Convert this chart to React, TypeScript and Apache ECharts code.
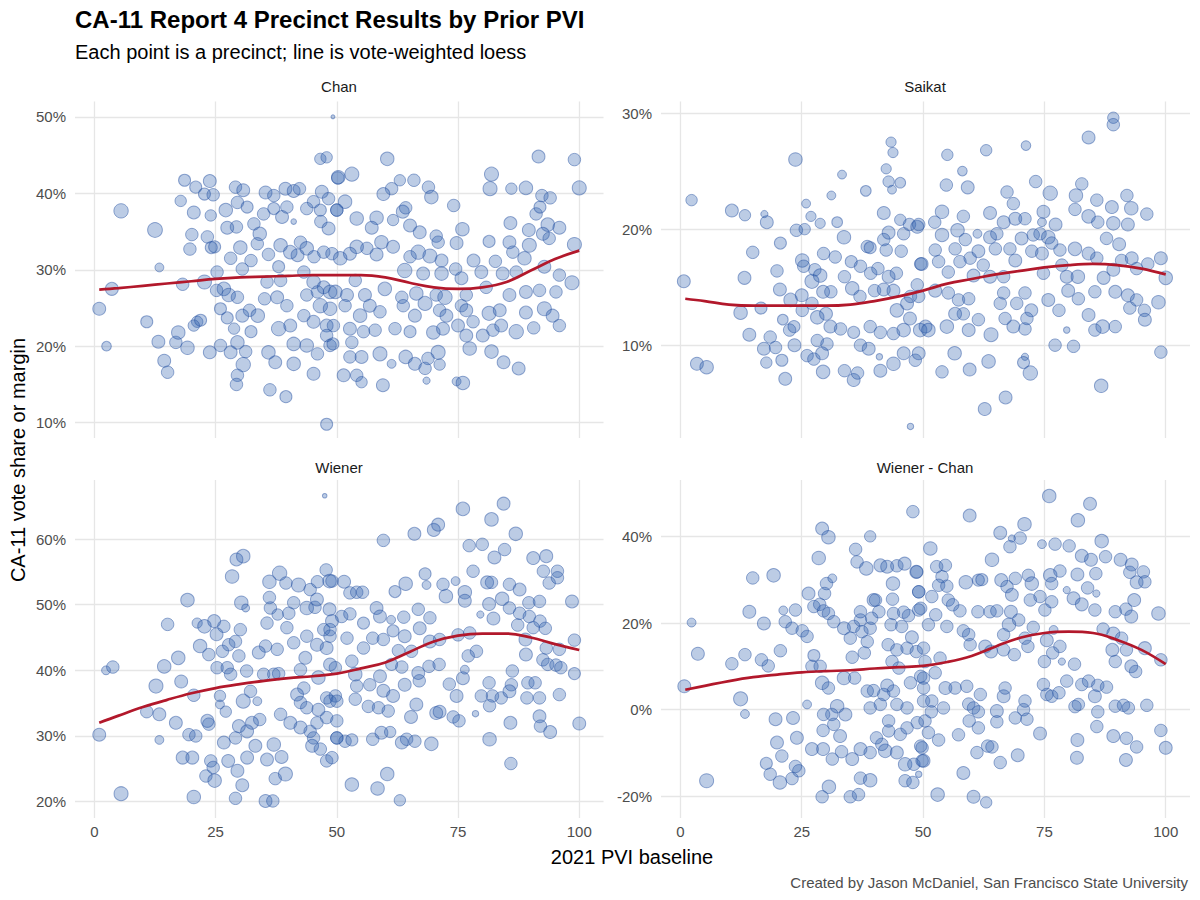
import React, { useEffect, useRef } from "react";
import * as echarts from "echarts";

// [pvi, share %, votes]
const chanPoints = [
  [49.2,50.0,30],[46.6,44.5,250],[47.9,44.7,250],[50.2,42.0,300],
  [18.6,41.7,280],[20.9,40.8,280],[23.8,41.6,320],[22.7,39.9,280],[24.5,39.8,300],
  [17.8,39.0,250],[20.5,37.5,320],[24.0,37.1,250],[5.5,37.7,400],
  [12.5,35.2,420],[20.1,34.6,300],[23.3,34.3,300],[19.7,32.7,300],[24.1,32.9,280],
  [13.4,30.3,150],[3.6,27.5,320],[1.0,24.9,320],[2.5,20.0,180],[18.2,28.1,300],[22.7,28.4,380],
  [10.8,23.2,280],[13.2,20.6,320],[14.4,18.1,320],[15.1,16.6,300],[16.8,20.5,300],[17.3,21.8,350],
  [19.2,19.8,350],[21.2,23.2,250],[21.9,23.4,280],[20.5,22.7,250],[23.8,19.2,320],
  [27.1,37.8,350],[29.1,40.8,300],[30.7,40.4,320],[29.5,38.8,300],[31.5,38.2,280],[27.4,35.5,320],
  [29.3,35.6,300],[32.9,36.0,300],[34.1,34.7,350],[33.6,33.4,300],[30.1,32.9,350],[28.1,31.5,300],
  [32.3,31.2,300],[30.5,30.1,300],[24.8,33.0,280],[25.3,29.7,300],[26.7,27.5,350],[27.7,26.7,350],
  [29.5,26.4,300],[25.2,27.3,300],[26.0,24.9,280],[27.4,23.7,280],[30.5,24.0,320],[32.0,24.7,300],
  [33.7,24.0,350],[26.0,20.1,300],[28.1,19.2,320],[29.5,20.5,350],[30.7,17.6,400],[29.5,16.2,300],
  [29.3,15.0,300],[31.2,19.3,300],[32.3,21.9,280],[28.8,22.3,250],
  [35.3,40.1,320],[37.0,39.7,300],[39.4,40.6,320],[41.1,40.3,320],[42.3,40.6,300],[34.9,37.3,300],
  [37.0,38.0,280],[38.7,36.9,320],[39.7,38.2,300],[41.1,36.3,60],[38.4,33.2,350],[40.4,32.3,350],
  [42.5,33.6,300],[41.9,31.9,320],[35.9,32.0,300],[38.0,30.4,280],[35.6,28.4,300],[38.4,28.6,300],
  [35.1,26.2,300],[37.7,26.4,320],[39.7,25.3,300],[38.0,22.3,400],[40.4,22.7,320],[41.1,20.3,350],
  [35.9,19.2,350],[37.3,17.9,320],[41.1,17.7,350],[36.2,14.3,300],[39.5,13.4,280],
  [43.8,38.0,300],[45.2,38.9,300],[46.9,40.2,320],[46.6,37.8,280],[48.3,39.3,300],[50.0,37.8,300],
  [46.7,36.3,300],[48.3,35.4,320],[43.8,32.8,350],[45.3,31.7,300],[47.3,32.3,300],[49.0,32.1,300],
  [43.2,29.7,300],[45.2,28.4,350],[47.3,27.7,320],[43.8,26.7,300],[46.0,27.1,300],[48.6,27.1,350],
  [46.6,25.3,400],[48.6,24.9,350],[43.2,24.0,300],[45.2,23.2,320],[47.9,22.7,320],[49.3,22.7,300],
  [43.8,20.1,350],[46.0,19.0,300],[47.9,21.4,300],[48.6,20.1,300],[45.2,16.4,320],[47.9,9.8,280],
  [60.4,44.5,350],[91.6,44.8,320],[99.0,44.4,300],[100,40.7,380],
  [50.3,42.1,350],[53.1,42.5,380],[63.0,41.7,250],[65.9,41.7,300],[68.9,40.8,300],[69.5,39.5,350],
  [61.3,40.6,300],[59.6,39.9,320],[81.9,42.5,380],[81.6,40.6,380],[86.0,40.6,250],[89.0,40.7,350],
  [92.3,39.7,300],[94.0,39.4,300],[74.1,38.4,300],
  [51.7,38.9,350],[50.0,37.8,300],[54.1,36.7,350],[58.2,36.8,350],[61.6,36.5,250],[63.6,37.6,320],
  [64.2,38.1,300],[57.2,35.5,320],[65.1,35.8,320],[67.1,34.9,320],[70.5,34.4,300],[70.9,33.6,300],
  [75.9,35.3,350],[74.7,33.5,320],[85.8,36.1,320],[89.6,35.2,320],[91.1,37.3,300],[91.9,38.2,280],
  [93.5,35.9,350],[95.9,35.5,320],[92.5,34.7,320],[93.8,34.1,300],[99.0,33.3,380],
  [59.2,33.6,350],[61.6,33.0,320],[56.2,32.8,300],[58.2,32.0,320],[54.1,33.0,350],[52.7,32.1,320],
  [50.7,31.5,350],[66.8,32.3,400],[69.2,31.8,380],[65.1,31.7,300],[71.6,31.2,320],[64.0,29.9,400],
  [67.8,29.5,320],[71.6,29.5,350],[74.5,30.1,300],[78.2,31.2,320],[79.8,29.7,320],[82.7,31.1,300],
  [81.4,33.7,280],[85.6,33.6,320],[88.7,31.5,350],[89.7,33.2,380],[86.3,32.3,300],[84.2,29.5,320],
  [87.0,29.7,300],[92.8,30.4,320],[95.9,29.3,300],[98.5,28.3,380],
  [49.7,27.1,350],[52.1,26.7,320],[53.8,28.6,300],[55.8,26.7,320],[59.9,27.5,350],[63.4,26.4,300],
  [66.4,26.9,350],[68.2,25.6,380],[70.5,26.7,300],[72.3,26.4,400],[75.7,28.9,320],[76.7,26.7,300],
  [80.8,27.7,300],[85.6,26.7,320],[89.0,27.1,320],[91.8,27.3,300],[95.2,27.1,300],
  [51.7,25.3,300],[54.8,24.0,350],[56.8,25.3,320],[58.9,24.5,300],[63.7,25.3,300],[66.1,24.0,320],
  [71.2,24.7,300],[72.6,24.0,320],[75.7,25.3,300],[76.7,24.7,320],[81.4,24.3,380],[83.6,24.7,320],
  [89.0,24.4,320],[92.8,24.9,380],[94.5,24.0,320],[95.9,22.7,300],[90.6,22.4,300],
  [52.7,22.3,320],[55.5,21.9,300],[57.9,22.1,300],[62.0,22.3,300],[65.1,21.9,280],[69.9,21.8,350],
  [71.9,22.3,320],[75.0,22.7,320],[76.7,21.4,320],[78.1,23.2,300],[80.1,21.4,320],[82.2,22.1,300],
  [83.9,22.7,320],[87.0,21.9,400],[77.4,19.7,350],
  [53.1,20.5,300],[49.2,20.3,280],[52.7,18.6,300],[55.1,18.6,320],[58.9,19.0,380],[61.3,17.7,150],
  [64.2,18.6,350],[66.1,17.7,320],[68.8,18.4,300],[70.9,19.2,380],[71.2,17.6,250],[81.9,19.3,350],
  [84.4,17.9,320],[87.5,17.1,320],[51.4,16.2,320],[54.1,16.2,300],[55.1,15.3,250],[59.5,14.9,320],
  [68.2,17.1,300],[68.5,15.5,100],[74.7,15.4,150],[76.0,15.2,350],
];

const saikatPoints = [
  [2.3,22.5,250],[0.7,15.5,320],[3.4,8.4,320],[5.4,8.1,350],
  [10.6,21.6,320],[13.3,21.2,250],[17.3,21.3,100],[17.8,20.6,320],[14.9,18.0,300],[13.2,15.8,320],
  [12.4,12.8,350],[14.2,10.9,320],[16.6,13.2,280],[17.2,9.7,320],[18.5,10.7,300],[19.6,9.8,300],
  [17.7,8.5,250],[20.9,8.7,280],[21.6,7.1,320],[20.6,18.8,280],[19.9,16.4,300],[20.5,14.8,320],
  [23.7,26.0,350],[25.9,22.2,150],[26.9,21.1,200],[28.8,20.5,200],[23.9,19.9,300],[25.6,20.0,250],
  [33.3,24.7,150],[31.1,22.9,150],[32.3,20.6,220],[33.7,19.3,350],[38.2,23.3,220],[41.9,21.4,320],
  [43.4,27.5,200],[43.8,26.6,200],[42.4,25.2,200],[42.9,24.1,250],[43.6,23.4,150],[45.3,24.0,220],
  [42.9,19.7,320],[41.9,19.1,300],[38.5,18.5,300],[39.1,18.4,280],[42.4,18.2,300],[45.5,18.1,300],
  [46.0,19.6,300],[45.3,20.8,250],[47.2,20.4,300],[48.8,20.2,320],
  [25.1,17.3,350],[25.4,16.8,300],[27.1,15.5,380],[28.8,16.0,350],[27.7,16.5,300],[29.5,17.9,300],
  [31.9,17.6,300],[29.4,14.6,320],[31.0,14.6,300],[33.8,15.9,300],[35.2,17.2,280],[37.1,16.8,300],
  [39.2,16.2,300],[40.7,16.6,300],[42.9,15.9,320],[44.5,16.2,300],[35.4,14.9,350],[37.0,14.2,300],
  [40.0,14.7,300],[41.9,14.8,320],[43.9,14.7,320],[22.7,13.9,350],[25.0,14.3,320],[25.1,13.0,300],
  [27.1,13.6,300],[28.2,12.4,350],[30.0,12.7,320],[30.9,11.6,320],[33.0,11.4,300],[35.7,11.1,280],
  [21.1,12.2,220],[23.4,11.6,280],[22.5,11.3,300],[23.5,10.0,320],[26.1,9.1,300],[27.5,8.8,300],
  [29.2,9.3,320],[28.2,10.4,300],[30.2,10.1,300],[29.4,7.7,350],[33.8,7.8,300],[35.7,7.0,320],
  [36.5,7.6,300],[37.1,10.0,300],[38.8,9.7,320],[39.1,11.6,300],[41.2,11.1,300],[41.0,9.0,80],
  [41.2,7.8,320],[43.9,8.4,350],[46.0,9.3,320],[48.4,8.7,300],[44.6,13.0,350],[46.7,13.6,320],
  [47.3,12.3,320],[46.0,11.3,350],[49.4,11.3,350],[50.5,11.6,320],[47.4,3.0,80],[43.9,11.0,300],
  [47.4,14.2,300],[48.8,15.2,300],[49.5,17.0,300],
  [89.2,29.6,250],[89.2,29.0,300],[84.1,27.9,320],[55.0,26.4,250],[63.0,26.8,250],[71.2,27.2,180],
  [58.1,25.0,180],[54.8,23.8,300],[59.2,23.6,320],[67.3,23.2,300],[73.2,24.1,300],[76.2,23.1,400],
  [68.6,22.2,300],[81.5,22.9,350],[82.7,23.9,300],[85.8,22.5,300],[88.9,21.9,320],[92.0,22.9,300],
  [92.9,21.8,350],[96.1,21.3,300],
  [53.9,21.5,350],[52.4,20.6,300],[58.3,21.1,300],[63.8,21.4,320],[66.6,20.6,320],[69.0,20.9,320],
  [71.0,20.9,300],[74.8,21.5,320],[74.5,20.6,150],[77.3,20.4,320],[81.3,21.7,300],[84.1,21.1,350],
  [86.0,20.6,300],[89.2,20.5,350],[92.2,20.4,320],[49.1,20.4,300],
  [53.9,19.5,350],[57.1,19.9,350],[58.7,19.1,300],[61.2,19.6,150],[63.8,19.3,320],[65.2,19.6,300],
  [70.3,19.2,320],[72.7,19.5,300],[74.1,19.6,300],[75.8,19.3,350],[76.5,18.8,300],[78.2,18.2,300],
  [81.3,18.3,350],[87.8,19.2,300],[90.4,18.7,320],[52.5,18.2,300],[56.6,18.3,300],[61.4,18.1,320],
  [64.9,18.3,300],[67.9,18.3,300],[72.4,18.1,300],[74.5,17.9,320],
  [49.7,17.0,320],[53.2,17.2,300],[57.6,17.2,300],[59.7,17.5,300],[62.4,16.9,300],[69.0,17.3,320],
  [63.8,15.9,320],[66.6,15.9,300],[60.4,16.0,320],[55.2,16.3,300],[74.8,16.2,300],[78.6,16.9,300],
  [79.6,15.9,320],[81.9,15.9,350],[84.1,17.9,320],[85.8,17.5,300],[87.2,15.8,320],[89.2,16.5,320],
  [90.9,17.3,300],[93.0,17.5,320],[94.0,16.6,300],[96.3,17.0,300],[99.0,17.5,320],[100,15.8,350],
  [49.1,14.2,300],[52.5,14.7,320],[55.2,14.5,300],[57.3,13.9,300],[59.4,14.0,300],[56.6,12.7,320],
  [58.3,12.7,300],[61.4,12.2,300],[65.9,13.6,300],[66.6,14.5,300],[69.3,13.6,300],[71.0,14.5,300],
  [72.3,13.0,320],[66.9,12.3,300],[68.6,11.6,320],[71.0,11.4,300],[71.4,12.3,300],[75.8,13.9,320],
  [78.0,13.0,300],[79.9,14.7,320],[82.0,14.0,300],[84.1,12.6,320],[85.4,14.6,300],[89.6,14.6,320],
  [92.2,14.3,320],[94.0,13.9,300],[92.6,13.2,300],[95.6,13.0,300],[95.7,12.2,320],[98.5,13.7,350],
  [87.0,11.6,350],[89.6,11.6,300],[85.4,11.3,300],[79.6,11.3,80],
  [51.1,11.3,350],[54.9,11.6,350],[59.4,11.3,320],[64.0,10.9,380],[49.1,9.3,320],[56.5,9.3,350],
  [63.5,8.6,350],[71.0,9.0,100],[70.7,8.5,280],[72.1,7.6,400],[53.9,7.7,300],[59.6,7.9,320],
  [77.2,10.0,300],[81.0,9.9,300],[99.0,9.4,300],[86.7,6.5,350],[67.0,5.5,320],[62.7,4.5,320],
];

const wienerPoints = [
  [47.5,66.6,40],[1.0,30.2,320],[2.4,40.0,150],[3.8,40.5,300],[5.5,21.2,380],[10.8,33.7,300],
  [12.7,37.6,380],[13.4,33.3,320],[13.4,29.4,150],[14.4,40.6,350],[15.1,47.0,300],[16.8,32.0,320],
  [17.3,41.9,350],[17.9,38.3,320],[19.2,50.7,350],[18.2,26.7,320],[20.2,26.7,320],[20.5,20.7,350],
  [20.5,36.2,300],[19.5,30.2,300],[20.9,30.0,300],[21.2,47.2,200],[21.8,43.7,350],[22.7,46.7,350],
  [23.6,42.4,300],[23.3,32.3,320],[23.6,31.8,300],[24.0,26.2,300],[23.0,23.9,300],[24.8,23.2,350],
  [24.5,25.2,300],[24.7,47.5,320],[25.2,45.5,320],[26.7,46.7,300],[25.3,40.4,300],[26.4,42.9,300],
  [25.9,36.1,250],[25.9,34.8,150],[27.1,33.7,250],[26.7,29.0,320],[27.6,26.2,320],[29.1,20.5,300],
  [29.5,24.7,320],[30.5,22.5,320],[28.4,54.3,350],[29.3,56.9,320],[30.7,57.4,350],[30.3,50.3,350],
  [31.2,49.5,120],[27.7,43.9,300],[29.1,44.4,300],[30.1,46.2,300],[29.8,42.2,300],[27.4,40.4,300],
  [28.1,39.4,300],[31.4,39.9,300],[30.7,35.3,380],[32.2,36.8,300],[33.6,35.3,150],[29.8,31.5,320],
  [29.1,29.7,300],[31.5,30.7,320],[32.5,32.0,320],[33.2,28.5,320],[31.5,26.7,320],[34.1,32.5,300],
  [35.6,26.4,320],[37.0,28.7,350],[38.6,26.8,320],[35.3,20.1,320],[36.8,20.1,300],[37.3,23.5,300],
  [39.4,24.2,380],[36.1,53.5,350],[38.2,54.8,400],[39.5,53.3,300],[42.1,53.0,380],[41.1,50.3,300],
  [40.1,48.7,300],[36.3,49.5,300],[36.1,51.1,300],[37.8,48.5,250],[35.6,47.2,300],[39.7,46.5,300],
  [41.1,44.2,300],[37.7,43.2,300],[35.3,43.7,300],[33.9,42.7,320],[34.9,39.4,300],[37.0,39.4,300],
  [38.0,39.5,300],[42.5,40.1,300],[43.5,41.9,320],[43.8,45.2,300],[45.9,43.9,320],[47.8,55.3,300],
  [46.0,53.5,300],[48.5,53.6,350],[44.5,52.3,300],[43.8,49.5,350],[45.5,49.6,300],[45.9,50.8,320],
  [48.5,49.3,320],[49.0,47.5,320],[47.3,46.2,300],[48.6,45.2,300],[47.9,43.4,320],[48.6,40.9,320],
  [46.2,38.9,350],[43.2,37.3,300],[41.8,36.3,320],[42.5,35.1,300],[43.8,34.3,300],[46.2,34.0,320],
  [47.9,35.8,300],[49.7,36.1,300],[38.4,33.3,300],[40.4,32.0,320],[42.5,31.3,320],[44.5,30.7,300],
  [45.9,32.0,300],[47.9,32.8,300],[50.0,32.3,300],[44.9,28.5,320],[46.6,28.0,300],[47.9,26.2,300],
  [45.2,29.7,300],[50.0,29.7,300],
  [76.0,64.6,350],[84.4,65.4,320],[81.9,63.0,350],[86.9,60.8,350],[59.6,59.8,300],[66.0,60.8,320],
  [70.0,61.4,320],[70.9,62.2,320],[77.3,59.0,300],[80.0,59.2,300],[82.5,57.2,320],[84.6,58.4,300],
  [90.5,57.1,320],[93.2,57.4,320],[92.6,55.1,300],[95.5,55.1,300],[93.8,53.3,300],[95.5,54.1,300],
  [98.5,50.5,320],[99.0,44.6,300],[99.0,39.5,280],[100,31.9,320],
  [68.2,54.7,280],[68.5,53.0,150],[51.5,53.5,320],[49.0,53.6,300],[62.0,52.0,280],[64.2,53.2,350],
  [71.9,53.1,300],[72.5,51.3,350],[74.5,53.6,150],[76.4,51.9,350],[76.4,50.6,320],[78.1,55.1,300],
  [81.0,53.4,320],[81.9,53.4,300],[84.1,50.9,350],[85.6,53.1,300],[87.7,52.3,320],[52.7,51.8,300],
  [54.1,51.9,300],[55.3,51.9,300],
  [51.0,48.2,300],[52.7,48.6,300],[55.5,47.2,280],[58.2,49.5,320],[58.9,48.2,320],[61.2,47.7,150],
  [63.8,48.1,300],[66.8,49.3,300],[67.1,46.4,320],[69.2,48.0,300],[81.4,50.1,320],[82.3,47.9,320],
  [79.6,48.5,100],[85.6,49.5,300],[87.7,48.7,300],[89.6,50.3,300],[91.8,50.5,300],[89.7,48.2,300],
  [91.9,47.5,300],[90.5,46.5,300],[93.0,46.4,300],[87.3,46.9,300],
  [48.6,46.2,300],[52.1,44.9,300],[55.5,43.4,300],[57.4,44.9,300],[59.6,44.7,300],[61.6,46.0,280],
  [64.0,45.2,320],[65.4,42.9,300],[62.7,43.0,300],[69.2,44.4,320],[71.2,44.7,300],[75.0,45.4,300],
  [77.4,45.7,300],[77.1,42.2,300],[78.8,42.9,300],[88.9,44.7,320],[89.0,42.4,320],[93.2,43.4,300],
  [95.9,43.2,300],[92.5,41.6,300],[93.5,40.9,300],[95.2,40.8,300],[96.2,40.4,300],
  [49.7,40.4,300],[53.1,41.4,300],[53.8,39.4,350],[54.1,37.6,300],[56.8,37.8,300],[58.9,39.1,320],
  [59.6,36.9,320],[61.3,40.9,280],[63.4,40.5,300],[64.0,37.8,320],[66.8,39.6,320],[67.0,38.4,300],
  [69.0,40.6,300],[71.1,40.9,300],[73.2,37.9,300],[76.0,38.8,320],[76.4,40.1,150],[74.7,36.1,320],
  [81.4,38.1,300],[82.1,36.1,300],[83.9,35.8,300],[86.0,37.8,300],[86.2,39.9,300],[89.4,38.1,300],
  [90.9,38.1,300],[91.8,35.8,300],[95.9,36.3,300],[89.2,35.8,300],[85.6,36.8,320],[79.8,36.1,300],
  [81.5,34.6,300],
  [48.6,35.3,300],[50.0,35.3,300],[53.8,35.6,300],[56.5,34.5,300],[58.6,34.3,300],[60.6,33.8,300],
  [61.6,36.1,320],[66.4,34.8,320],[65.3,32.9,320],[70.5,33.5,320],[71.2,33.7,320],[74.0,32.9,300],
  [75.2,32.3,300],[78.6,33.4,80],[85.8,32.0,320],[91.8,33.0,320],[92.0,31.5,300],[94.0,30.6,320],
  [81.5,29.5,350],[85.9,25.8,300],
  [50.0,29.7,300],[51.7,29.2,300],[53.1,29.4,280],[57.4,29.5,300],[59.2,30.5,320],[61.0,30.6,250],
  [63.4,29.0,320],[64.4,29.5,300],[66.1,29.2,300],[69.5,28.8,350],[49.0,26.7,300],[53.1,22.6,350],
  [58.4,22.0,350],[60.4,24.2,350],[63.0,20.2,250],
];

const wienerChanPoints = [
  [0.8,5.4,320],[2.3,20.1,150],[3.6,12.9,320],[5.4,-16.4,380],[10.6,10.6,300],[12.4,2.5,380],
  [13.3,-1.0,150],[13.3,12.7,300],[14.2,22.6,320],[14.9,30.4,300],[17.2,19.9,320],[16.7,11.5,300],
  [18.1,10.1,300],[19.2,31.0,350],[19.6,-2.2,320],[19.9,-7.6,320],[20.9,-10.7,300],[17.7,-12.4,280],
  [18.5,-14.9,300],[20.5,-16.8,350],[20.6,13.6,300],[21.2,22.9,150],[21.6,20.3,300],[23.0,18.8,300],
  [23.7,23.0,300],[23.2,-1.9,320],[24.0,-6.5,320],[23.0,-15.9,300],[24.4,-14.1,300],[23.7,-13.1,300],
  [25.1,18.2,300],[26.1,1.2,150],[26.4,26.8,320],[27.5,23.8,300],[27.5,12.5,280],[28.5,35.0,350],
  [29.2,41.8,320],[30.5,39.8,350],[29.7,26.8,300],[30.1,29.1,300],[31.3,30.3,150],[28.7,24.3,300],
  [29.5,22.8,300],[30.5,22.2,300],[31.6,20.3,300],[26.1,16.9,300],[27.1,10.0,300],[29.2,6.2,350],
  [30.5,5.0,300],[28.8,10.0,300],[32.3,0.8,350],[34.0,-1.1,320],[31.2,-1.1,300],[29.5,-1.1,300],
  [29.4,-4.8,300],[31.6,-3.4,300],[32.9,-6.1,320],[27.1,-9.1,320],[29.4,-9.1,320],[31.3,-11.4,300],
  [33.2,-9.7,300],[30.6,-17.8,350],[29.2,-20.1,300],[35.0,-20.1,300],[36.7,-19.6,300],[35.4,-11.4,320],
  [37.1,-15.8,300],[39.1,-16.3,350],[37.1,-9.1,320],[39.1,-9.9,300],[40.4,-6.5,300],[42.2,-9.5,350],
  [41.5,-8.0,300],[42.9,-4.9,300],[44.6,-9.9,320],[45.3,-5.7,300],[46.3,-12.6,350],[48.1,-12.6,300],
  [46.3,-16.4,300],[47.9,-16.8,300],[49.1,-14.9,80],[50.1,-11.8,320],[49.5,-8.4,300],
  [33.7,18.8,320],[35.0,16.5,300],[35.7,19.2,300],[37.4,18.0,300],[37.1,20.7,300],[38.5,15.7,300],
  [39.1,18.8,300],[39.8,25.3,320],[40.9,22.6,300],[39.4,21.1,300],[37.1,22.6,300],[37.9,13.1,300],
  [35.4,12.1,300],[33.7,7.3,350],[35.9,7.3,300],[38.5,4.3,300],[39.1,0.4,300],[39.8,4.4,300],
  [41.2,1.2,300],[42.6,5.6,320],[41.9,3.5,300],[43.9,4.3,300],[44.6,1.2,300],[42.9,-2.6,300],
  [46.7,0.4,300],[46.7,-4.2,300],[48.8,-3.0,300],[50.1,2.0,300],
  [36.4,34.1,300],[36.1,37.0,300],[38.3,32.6,350],[41.2,33.3,320],[42.6,33.0,320],[43.8,29.1,350],
  [44.6,33.2,300],[46.2,33.7,320],[48.6,31.8,320],[47.9,45.7,300],[39.1,40.0,250],[40.2,25.3,300],
  [43.9,22.2,300],[46.0,22.5,300],[47.0,21.7,300],[49.5,23.4,300],[49.1,27.2,300],[43.7,25.5,300],
  [43.4,19.6,300],[45.6,19.2,300],[47.7,16.7,320],[42.8,15.0,300],[44.6,13.8,300],[46.7,14.2,300],
  [48.6,13.4,300],[43.6,11.1,300],[45.0,9.6,300],[47.4,6.2,300],[49.5,7.7,300],[50.1,5.0,300],
  [76.0,49.3,350],[84.4,47.5,320],[81.9,43.7,350],[59.6,44.8,320],[70.9,42.8,350],[65.9,40.8,320],
  [70.0,39.6,300],[68.3,39.5,100],[67.9,37.6,300],[74.5,38.2,150],[77.2,38.2,300],[80.1,37.8,300],
  [86.8,38.9,350],[82.7,35.5,320],[84.6,34.6,320],[87.6,35.3,300],[90.7,34.6,320],[93.0,33.5,320],
  [92.6,31.7,300],[95.4,31.8,300],[94.0,29.4,320],[95.7,29.5,300],[64.2,34.6,350],[51.5,37.2,350],
  [48.7,31.8,300],
  [52.8,33.0,300],[54.6,33.3,300],[53.9,30.7,300],[53.2,28.7,300],[54.9,28.5,300],[58.8,29.4,350],
  [61.4,29.9,280],[62.1,30.0,280],[66.1,29.9,320],[69.0,30.3,300],[67.3,28.4,300],[68.3,26.5,320],
  [71.7,31.0,300],[72.4,29.1,350],[72.1,25.3,300],[76.2,31.0,350],[78.2,32.0,300],[76.5,29.1,300],
  [76.5,24.9,300],[75.1,23.0,300],[74.1,26.1,300],[79.6,27.6,100],[81.0,25.7,320],[81.8,31.2,320],
  [83.9,28.1,300],[85.6,31.4,300],[85.7,26.8,100],[82.7,24.3,320],[85.4,23.0,300],[89.6,22.6,300],
  [91.8,23.2,300],[93.5,25.3,320],[92.9,21.5,320],[98.5,22.2,350],
  [49.1,27.2,300],[51.8,26.1,300],[49.1,23.0,300],[52.6,21.9,300],[55.2,25.3,300],[56.1,24.2,300],
  [57.6,22.8,300],[61.3,22.6,300],[63.8,22.6,300],[65.2,22.8,300],[68.1,22.6,320],[69.7,20.7,300],
  [67.7,19.6,350],[72.7,19.0,300],[54.9,19.2,300],[51.1,19.6,300],[58.3,18.2,300],[59.4,17.3,300],
  [59.7,15.0,300],[66.6,17.3,300],[62.8,14.6,320],[64.0,13.4,320],[66.6,13.8,300],[68.8,12.7,300],
  [71.0,16.5,300],[71.6,14.6,300],[75.5,16.0,320],[76.9,18.4,150],[78.2,14.6,300],[76.7,13.1,300],
  [75.0,11.1,300],[78.6,11.1,100],[81.2,10.5,300],[87.1,18.6,300],[89.2,17.6,320],[89.0,13.8,320],
  [91.9,13.8,300],[90.9,16.5,300],[95.7,14.2,320],[92.9,10.0,320],[93.8,8.8,300],[99.0,11.5,300],
  [89.6,11.1,300],
  [50.1,14.2,300],[50.4,11.1,300],[53.5,11.9,300],[52.5,8.5,300],[50.1,7.3,300],[54.6,5.0,320],
  [56.6,5.0,300],[59.0,5.4,300],[61.8,3.5,300],[59.4,1.3,300],[60.4,0.4,300],[61.4,-0.5,300],
  [54.2,0.4,300],[51.8,2.0,300],[51.7,-0.5,300],[66.6,3.1,320],[65.2,-0.3,320],[66.9,5.0,300],
  [69.0,-1.9,300],[70.7,0.0,300],[71.0,2.0,300],[71.4,-2.2,300],[74.8,5.8,300],[75.5,3.5,300],
  [76.5,3.1,300],[78.0,3.9,300],[79.6,6.6,300],[82.7,5.8,300],[84.1,6.6,300],[85.4,3.1,320],
  [86.0,5.6,300],[87.8,5.2,300],[82.0,1.2,300],[81.3,0.7,300],[86.0,-0.5,300],[89.6,0.8,300],
  [91.3,1.0,300],[92.3,0.4,300],[96.1,1.0,300],[85.8,-3.9,300],[89.2,-6.1,320],[91.9,-6.6,300],
  [94.0,-8.6,300],[81.8,-7.0,320],[74.1,-5.5,320],[81.7,-11.1,320],[91.8,-11.6,320],[99.0,-4.8,300],
  [100,-8.8,320],
  [50.4,-2.6,300],[51.1,-5.3,300],[49.8,-8.8,300],[49.8,-11.8,300],[53.2,-7.0,300],[57.3,-5.8,300],
  [59.5,-2.6,300],[61.4,-4.2,300],[65.2,-2.8,300],[63.3,-8.4,300],[64.2,-8.6,300],[61.1,-9.9,300],
  [58.3,-14.6,320],[65.9,-12.2,300],[69.5,-10.5,320],[53.0,-19.6,350],[60.4,-20.1,320],[63.0,-21.4,250],
];

// loess curves, read at these PVI values
const loessX = [1, 5, 10, 15, 20, 25, 30, 35, 40, 45, 50, 55, 60, 65, 70, 75, 80, 85, 90, 95, 100];
const chanLoess = [27.4, 27.6, 27.9, 28.2, 28.5, 28.8, 29.0, 29.1, 29.2, 29.3, 29.3, 29.3, 29.0, 28.3, 27.7, 27.5, 27.7, 28.4, 29.9, 31.4, 32.5];
const saikatLoess = [14.0, 13.8, 13.5, 13.4, 13.4, 13.4, 13.4, 13.5, 13.8, 14.2, 14.7, 15.3, 15.7, 16.1, 16.4, 16.7, 16.9, 17.0, 16.9, 16.6, 16.1];
const wienerLoess = [32.0, 33.1, 34.4, 35.5, 36.5, 37.3, 37.9, 38.4, 38.8, 39.1, 39.5, 40.3, 41.2, 42.8, 44.4, 45.3, 45.6, 45.6, 45.0, 44.0, 43.1];
const wienerChanLoess = [4.6, 5.5, 6.6, 7.5, 8.1, 8.6, 8.9, 9.1, 9.5, 9.8, 10.1, 11.0, 12.4, 14.6, 16.6, 17.7, 18.0, 17.7, 16.1, 13.8, 10.5];

const panelNames = ["Chan", "Saikat", "Wiener", "Wiener - Chan"];
const xTickStep = 25;
const yTickSteps = [10, 10, 10, 20];

const FONT = "'Liberation Sans', Arial, Helvetica, sans-serif";
const GRID = "#e6e6e6";
const CLEAR = "rgba(0,0,0,0)";

// colour per split line; only the "nice" ones are visible
const lineColors = (min: number, max: number, step: number, major: number, lo: number, hi: number) => {
  const out: string[] = [];
  const n = Math.round((max - min) / step);
  for (let i = 0; i <= n; i++) {
    const v = min + i * step;
    const r = Math.round(v / major) * major;
    out.push(Math.abs(v - r) < 1e-6 && r >= lo && r <= hi ? GRID : CLEAR);
  }
  return out;
};

const isMajor = (v: number, major: number) => Math.abs(v - Math.round(v / major) * major) < 1e-6;

const App: React.FC = () => {
  const chartRef = useRef<HTMLDivElement | null>(null);

  useEffect(() => {
    document.body.style.margin = "0";
    if (!chartRef.current) return;
    const chart = echarts.init(chartRef.current, null, { renderer: "svg" });

    const panels = [
      { pts: chanPoints, loess: chanLoess, yMin: 8, yMax: 52, left: 75, top: 101.5, width: 528.5, height: 336.5, showX: false },
      { pts: saikatPoints, loess: saikatLoess, yMin: 2, yMax: 31, left: 661, top: 101.5, width: 529, height: 336.5, showX: false },
      { pts: wienerPoints, loess: wienerLoess, yMin: 17.5, yMax: 69, left: 75, top: 480, width: 528.5, height: 338, showX: true },
      { pts: wienerChanPoints, loess: wienerChanLoess, yMin: -25, yMax: 53, left: 661, top: 480, width: 529, height: 338, showX: true },
    ];
    const xMin = -4;
    const xMax = 105;
    const yStep = 0.5;

    const text = (t: string, x: number, y: number, size: number, opts: any = {}) => ({
      type: "text",
      x,
      y,
      rotation: opts.rotation || 0,
      silent: true,
      style: {
        text: t,
        font: `${opts.bold ? "bold " : ""}${size}px ${FONT}`,
        fill: opts.fill || "#000",
        textAlign: opts.align || "left",
        align: opts.align || "left",
        textVerticalAlign: "middle",
        verticalAlign: "middle",
      },
    });

    const options = {
      animation: false,
      backgroundColor: "#fff",
      grid: panels.map((p) => ({ left: p.left, top: p.top, width: p.width, height: p.height, containLabel: false })),
      xAxis: panels.map((p, i) => ({
        type: "value",
        gridIndex: i,
        min: xMin,
        max: xMax,
        interval: 1,
        axisLine: { show: false },
        axisTick: { show: false },
        axisLabel: {
          show: p.showX,
          margin: 6,
          fontSize: 15,
          fontFamily: FONT,
          color: "#4d4d4d",
          formatter: (v: number) => (isMajor(v, xTickStep) && v >= 0 && v <= 100 ? String(Math.round(v)) : ""),
        },
        splitLine: { show: true, lineStyle: { width: 1.3, color: lineColors(xMin, xMax, 1, xTickStep, 0, 100) } },
      })),
      yAxis: panels.map((p, i) => ({
        type: "value",
        gridIndex: i,
        min: p.yMin,
        max: p.yMax,
        interval: yStep,
        axisLine: { show: false },
        axisTick: { show: false },
        axisLabel: {
          margin: 9,
          fontSize: 15,
          fontFamily: FONT,
          color: "#4d4d4d",
          formatter: (v: number) => (isMajor(v, yTickSteps[i]) ? `${Math.round(v)}%` : ""),
        },
        splitLine: {
          show: true,
          lineStyle: { width: 1.3, color: lineColors(p.yMin, p.yMax, yStep, yTickSteps[i], -1000, 1000) },
        },
      })),
      series: panels.flatMap((p, i) => [
        {
          type: "scatter",
          xAxisIndex: i,
          yAxisIndex: i,
          data: p.pts,
          symbolSize: (d: number[]) => 0.72 * Math.sqrt(d[2]),
          itemStyle: {
            color: "rgba(47, 95, 174, 0.4)",
            borderColor: "rgba(35, 80, 160, 0.6)",
            borderWidth: 1,
          },
          silent: true,
          z: 2,
        },
        {
          type: "line",
          xAxisIndex: i,
          yAxisIndex: i,
          data: loessX.map((x, k) => [x, p.loess[k]]),
          smooth: 0.4,
          showSymbol: false,
          symbol: "none",
          lineStyle: { color: "#b2182b", width: 2.7 },
          silent: true,
          z: 5,
        },
      ]),
      graphic: [
        text("CA-11 Report 4 Precinct Results by Prior PVI", 75, 19, 24, { bold: true }),
        text("Each point is a precinct; line is vote-weighted loess", 75, 52, 20),
        text(panelNames[0], 339, 86, 15, { align: "center", fill: "#1a1a1a" }),
        text(panelNames[1], 925, 86, 15, { align: "center", fill: "#1a1a1a" }),
        text(panelNames[2], 339, 467, 15, { align: "center", fill: "#1a1a1a" }),
        text(panelNames[3], 925, 467, 15, { align: "center", fill: "#1a1a1a" }),
        text("CA-11 vote share or margin", 18, 460, 20, { align: "center", rotation: Math.PI / 2 }),
        text("2021 PVI baseline", 632, 857, 20, { align: "center" }),
        text("Created by Jason McDaniel, San Francisco State University", 1188, 882, 15, { align: "right", fill: "#4d4d4d" }),
      ],
    };

    chart.setOption(options as any);

    return () => {
      chart.dispose();
    };
  }, []);

  return <div ref={chartRef} style={{ width: "1200px", height: "900px" }} />;
};

export default App;
